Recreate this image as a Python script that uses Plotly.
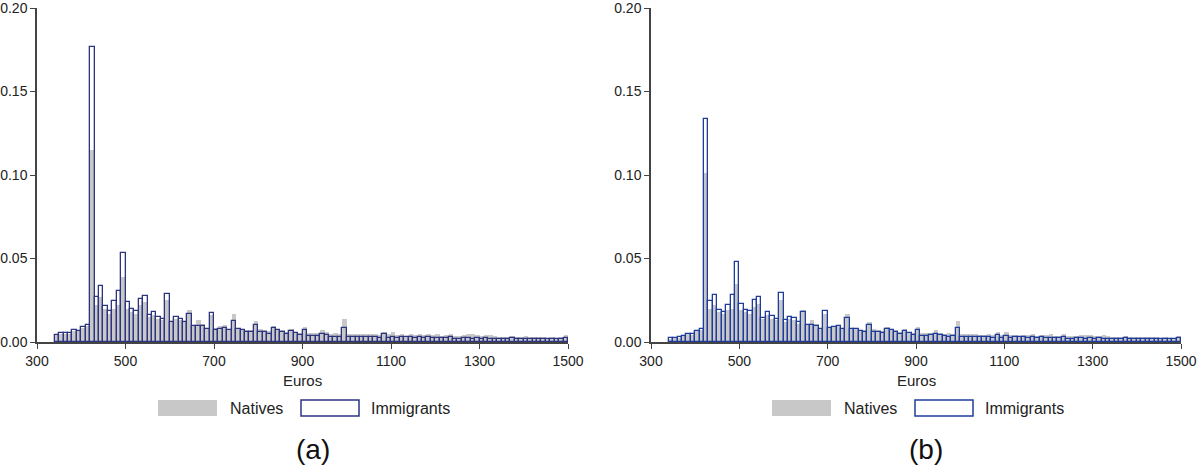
import plotly.graph_objects as go


# =====================================================
# DATA  (share of workers per 10-euro wage bin)
# =====================================================

bin_left = list(range(340, 1500, 10))   # 340, 350, ..., 1490

natives_a = [
    0.0040, 0.0045, 0.0045, 0.0050, 0.0065, 0.0065, 0.0085, 0.0095, 0.1150, 0.0220,
    0.0270, 0.0200, 0.0170, 0.0200, 0.0220, 0.0390, 0.0200, 0.0180, 0.0170, 0.0220,
    0.0240, 0.0150, 0.0160, 0.0140, 0.0130, 0.0250, 0.0120, 0.0140, 0.0130, 0.0120,
    0.0190, 0.0100, 0.0134, 0.0110, 0.0085, 0.0160, 0.0085, 0.0096, 0.0100, 0.0080,
    0.0170, 0.0085, 0.0080, 0.0072, 0.0070, 0.0125, 0.0075, 0.0070, 0.0065, 0.0096,
    0.0080, 0.0072, 0.0058, 0.0075, 0.0062, 0.0055, 0.0092, 0.0052, 0.0055, 0.0055,
    0.0072, 0.0058, 0.0050, 0.0055, 0.0050, 0.0136, 0.0048, 0.0045, 0.0048, 0.0050,
    0.0045, 0.0045, 0.0048, 0.0040, 0.0060, 0.0045, 0.0060, 0.0040, 0.0045, 0.0038,
    0.0045, 0.0040, 0.0048, 0.0040, 0.0045, 0.0040, 0.0048, 0.0038, 0.0040, 0.0048,
    0.0035, 0.0035, 0.0040, 0.0045, 0.0045, 0.0042, 0.0035, 0.0040, 0.0042, 0.0035,
    0.0030, 0.0030, 0.0032, 0.0038, 0.0028, 0.0030, 0.0034, 0.0030, 0.0028, 0.0030,
    0.0030, 0.0026, 0.0028, 0.0026, 0.0028, 0.0040,
]

immigrants_a = [
    0.0044, 0.0052, 0.0052, 0.0052, 0.0072, 0.0068, 0.0090, 0.0100, 0.1765, 0.0272,
    0.0338, 0.0216, 0.0188, 0.0246, 0.0306, 0.0530, 0.0238, 0.0198, 0.0186, 0.0256,
    0.0278, 0.0160, 0.0180, 0.0150, 0.0136, 0.0290, 0.0120, 0.0150, 0.0138, 0.0118,
    0.0168, 0.0098, 0.0098, 0.0096, 0.0076, 0.0176, 0.0074, 0.0076, 0.0086, 0.0072,
    0.0125, 0.0076, 0.0072, 0.0060, 0.0058, 0.0100, 0.0060, 0.0060, 0.0050, 0.0082,
    0.0070, 0.0060, 0.0048, 0.0064, 0.0052, 0.0040, 0.0072, 0.0036, 0.0038, 0.0038,
    0.0046, 0.0040, 0.0032, 0.0032, 0.0032, 0.0085, 0.0030, 0.0030, 0.0030, 0.0032,
    0.0030, 0.0028, 0.0030, 0.0026, 0.0045, 0.0025, 0.0032, 0.0026, 0.0032, 0.0028,
    0.0030, 0.0026, 0.0028, 0.0026, 0.0032, 0.0024, 0.0024, 0.0026, 0.0024, 0.0030,
    0.0020, 0.0020, 0.0022, 0.0024, 0.0020, 0.0026, 0.0020, 0.0024, 0.0020, 0.0020,
    0.0018, 0.0018, 0.0020, 0.0024, 0.0018, 0.0018, 0.0018, 0.0018, 0.0018, 0.0018,
    0.0016, 0.0016, 0.0016, 0.0016, 0.0016, 0.0024,
]

natives_b = [
    0.0020, 0.0024, 0.0026, 0.0034, 0.0046, 0.0044, 0.0064, 0.0072, 0.1010, 0.0200,
    0.0220, 0.0180, 0.0170, 0.0190, 0.0200, 0.0350, 0.0190, 0.0180, 0.0170, 0.0210,
    0.0230, 0.0140, 0.0160, 0.0140, 0.0130, 0.0250, 0.0120, 0.0140, 0.0130, 0.0110,
    0.0190, 0.0100, 0.0132, 0.0105, 0.0085, 0.0170, 0.0085, 0.0095, 0.0100, 0.0080,
    0.0168, 0.0085, 0.0080, 0.0072, 0.0070, 0.0120, 0.0075, 0.0070, 0.0065, 0.0092,
    0.0080, 0.0070, 0.0058, 0.0075, 0.0062, 0.0055, 0.0090, 0.0052, 0.0052, 0.0055,
    0.0070, 0.0056, 0.0050, 0.0052, 0.0050, 0.0125, 0.0046, 0.0045, 0.0046, 0.0048,
    0.0044, 0.0042, 0.0046, 0.0040, 0.0058, 0.0044, 0.0058, 0.0040, 0.0044, 0.0038,
    0.0044, 0.0040, 0.0046, 0.0038, 0.0044, 0.0040, 0.0046, 0.0036, 0.0038, 0.0046,
    0.0034, 0.0034, 0.0038, 0.0044, 0.0044, 0.0040, 0.0034, 0.0038, 0.0040, 0.0034,
    0.0030, 0.0030, 0.0032, 0.0036, 0.0028, 0.0030, 0.0032, 0.0030, 0.0028, 0.0028,
    0.0030, 0.0026, 0.0028, 0.0026, 0.0026, 0.0038,
]

immigrants_b = [
    0.0022, 0.0026, 0.0028, 0.0036, 0.0050, 0.0046, 0.0068, 0.0076, 0.1333, 0.0246,
    0.0282, 0.0190, 0.0178, 0.0222, 0.0282, 0.0478, 0.0228, 0.0192, 0.0186, 0.0252,
    0.0272, 0.0146, 0.0182, 0.0156, 0.0138, 0.0292, 0.0132, 0.0152, 0.0142, 0.0118,
    0.0178, 0.0102, 0.0102, 0.0098, 0.0076, 0.0186, 0.0082, 0.0092, 0.0096, 0.0076,
    0.0142, 0.0076, 0.0076, 0.0064, 0.0062, 0.0100, 0.0062, 0.0060, 0.0052, 0.0080,
    0.0070, 0.0060, 0.0050, 0.0064, 0.0052, 0.0042, 0.0070, 0.0038, 0.0038, 0.0040,
    0.0046, 0.0040, 0.0034, 0.0032, 0.0034, 0.0085, 0.0032, 0.0030, 0.0030, 0.0032,
    0.0030, 0.0028, 0.0030, 0.0026, 0.0044, 0.0026, 0.0034, 0.0026, 0.0032, 0.0028,
    0.0030, 0.0026, 0.0028, 0.0026, 0.0032, 0.0024, 0.0026, 0.0026, 0.0024, 0.0030,
    0.0020, 0.0020, 0.0022, 0.0024, 0.0020, 0.0026, 0.0020, 0.0024, 0.0020, 0.0020,
    0.0018, 0.0018, 0.0020, 0.0024, 0.0018, 0.0018, 0.0018, 0.0018, 0.0018, 0.0018,
    0.0016, 0.0016, 0.0016, 0.0016, 0.0016, 0.0026,
]

x_ticks = [300, 500, 700, 900, 1100, 1300, 1500]
y_ticks = [0.00, 0.05, 0.10, 0.15, 0.20]

panel_labels = ["(a)", "(b)"]
legend_names = ["Natives", "Immigrants"]


# =====================================================
# STYLE
# =====================================================

W, H = 1200, 466
FONT = "Liberation Sans, Arial, Helvetica, sans-serif"
GREY = "#c8c8c8"
AXIS = "#444444"
NAVY = ["#2c3480", "#1f3c9c"]

# pixel layout of the two panels (left, right) and common top / bottom
PANEL_X = [(37, 568), (651, 1181)]
TOP, BOTTOM = 8, 342


def px_x(p):
    return p / W


def px_y(p):
    return 1 - p / H


centers = [b + 5 for b in bin_left]

fig = go.Figure()

series = [(natives_a, immigrants_a), (natives_b, immigrants_b)]

for i, (nat, imm) in enumerate(series):
    xa = "x" if i == 0 else "x2"
    ya = "y" if i == 0 else "y2"

    fig.add_trace(go.Bar(
        x=centers, y=nat, width=10,
        marker=dict(color=GREY, line=dict(width=0)),
        xaxis=xa, yaxis=ya, showlegend=False,
        name=legend_names[0]
    ))
    fig.add_trace(go.Bar(
        x=centers, y=imm, width=10,
        marker=dict(color="rgba(0,0,0,0)",
                    line=dict(color=NAVY[i], width=1.3)),
        xaxis=xa, yaxis=ya, showlegend=False,
        name=legend_names[1]
    ))


# =====================================================
# AXES
# =====================================================

axis_common = dict(
    showgrid=False, zeroline=False,
    showline=True, linecolor=AXIS, linewidth=1.5,
    ticks="outside", ticklen=5, tickwidth=1.2, tickcolor=AXIS,
    tickfont=dict(family=FONT, size=14, color="#222222"),
    ticklabeloverflow="allow",
    automargin=False,
)

layout_axes = {}
for i, (x0, x1) in enumerate(PANEL_X):
    sfx = "" if i == 0 else "2"
    layout_axes["xaxis" + sfx] = dict(
        axis_common,
        domain=[px_x(x0), px_x(x1)],
        range=[300, 1500.01],
        tickvals=x_ticks,
        ticktext=[str(t) for t in x_ticks],
        anchor="y" + sfx,
    )
    layout_axes["yaxis" + sfx] = dict(
        axis_common,
        domain=[px_y(BOTTOM), px_y(TOP)],
        range=[0, 0.20001],
        tickvals=y_ticks,
        ticktext=["%.2f" % t for t in y_ticks],
        anchor="x" + sfx,
    )

fig.update_layout(
    width=W, height=H,
    margin=dict(l=0, r=0, t=0, b=0),
    paper_bgcolor="white", plot_bgcolor="white",
    barmode="overlay", bargap=0,
    font=dict(family=FONT, color="#222222"),
    **layout_axes
)


# =====================================================
# TITLES, LEGENDS, PANEL LABELS
# =====================================================

shapes = []
annotations = []

for i, (x0, x1) in enumerate(PANEL_X):
    mid = (x0 + x1) / 2
    lx = x0 + 121

    annotations.append(dict(
        text="Euros", x=px_x(mid), y=px_y(380), xref="paper", yref="paper",
        showarrow=False, font=dict(family=FONT, size=15, color="#222222"),
        xanchor="center", yanchor="middle"
    ))

    # legend swatches
    shapes.append(dict(
        type="rect", xref="paper", yref="paper",
        x0=px_x(lx), x1=px_x(lx + 59), y0=px_y(416), y1=px_y(400),
        fillcolor=GREY, line=dict(width=0)
    ))
    shapes.append(dict(
        type="rect", xref="paper", yref="paper",
        x0=px_x(lx + 143), x1=px_x(lx + 201), y0=px_y(416), y1=px_y(400),
        fillcolor="white", line=dict(color=NAVY[i], width=1.5)
    ))
    annotations.append(dict(
        text=legend_names[0], x=px_x(lx + 70), y=px_y(408),
        xref="paper", yref="paper", showarrow=False,
        font=dict(family=FONT, size=16, color="#222222"),
        xanchor="left", yanchor="middle"
    ))
    annotations.append(dict(
        text=legend_names[1], x=px_x(lx + 211), y=px_y(408),
        xref="paper", yref="paper", showarrow=False,
        font=dict(family=FONT, size=16, color="#222222"),
        xanchor="left", yanchor="middle"
    ))

    annotations.append(dict(
        text=panel_labels[i], x=px_x(mid + 10), y=px_y(449),
        xref="paper", yref="paper", showarrow=False,
        font=dict(family=FONT, size=28, color="#111111"),
        xanchor="center", yanchor="middle"
    ))

fig.update_layout(shapes=shapes, annotations=annotations)

# drop the default 8 px page margin so the figure fills the window exactly
fig.write_html(
    "out.html",
    config={"displayModeBar": False},
    post_script="document.body.style.margin='0';"
)
